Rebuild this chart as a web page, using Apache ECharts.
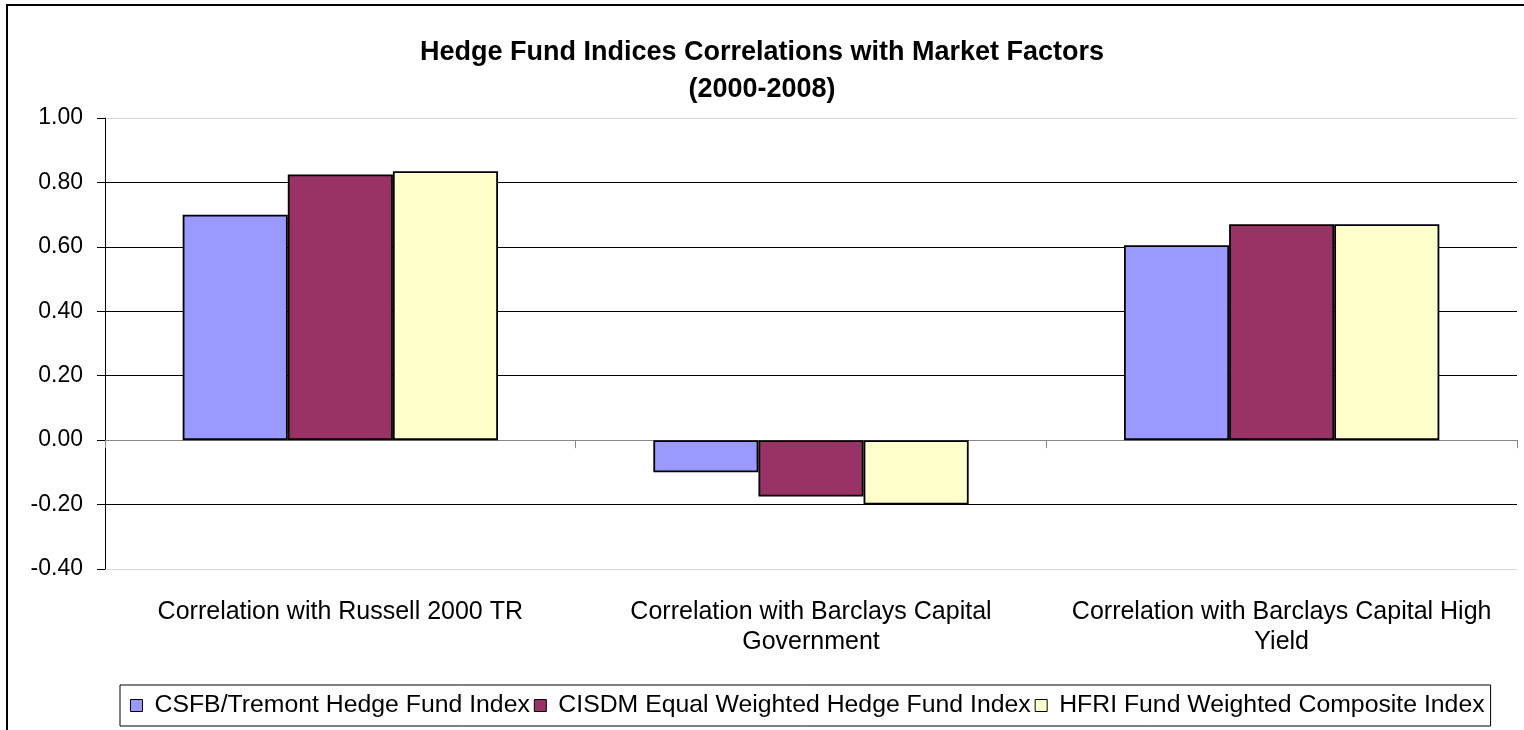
<!DOCTYPE html>
<html>
<head>
<meta charset="utf-8">
<script src="https://cdn.jsdelivr.net/npm/echarts@6/dist/echarts.min.js"></script>
<style>
  html, body { margin: 0; padding: 0; background: #fff; }
  #main { width: 1524px; height: 730px; }
</style>
</head>
<body>
<div id="main"></div>
<script>
// data
var categories = [
  'Correlation with Russell 2000 TR',
  'Correlation with Barclays Capital\nGovernment',
  'Correlation with Barclays Capital High\nYield'
];
var csfbValues = [0.70, -0.10, 0.605];
var cisdmValues = [0.825, -0.175, 0.67];
var hfriValues = [0.835, -0.20, 0.67];
var seriesNames = [
  'CSFB/Tremont Hedge Fund Index',
  'CISDM Equal Weighted Hedge Fund Index',
  'HFRI Fund Weighted Composite Index'
];
var seriesColors = ['#9999FF', '#993366', '#FFFFCC'];

var font = '"Liberation Sans", Arial, sans-serif';

function bar(name, data, color){
  return {
    name: name, type: 'bar', data: data,
    barGap: '0%', barCategoryGap: '33%',
    itemStyle: { color: color, borderColor: '#000', borderWidth: 1.8 }
  };
}

var chart = echarts.init(document.getElementById('main'), null, {renderer: 'canvas'});
chart.setOption({
  animation: false,
  backgroundColor: '#fff',
  textStyle: { fontFamily: font },
  title: {
    text: 'Hedge Fund Indices Correlations with Market Factors\n(2000-2008)',
    left: 'center', top: 29,
    textStyle: { fontFamily: font, fontSize: 27, fontWeight: 'bold', color: '#000', lineHeight: 37 }
  },
  graphic: [{
    type: 'rect', shape: { x: 7, y: 5, width: 1600, height: 800 },
    style: { fill: 'none', stroke: '#000', lineWidth: 2 }, silent: true
  }],
  legend: {
    data: seriesNames,
    bottom: 4, left: 120,
    itemWidth: 12, itemHeight: 12, itemGap: 4,
    padding: [8, 6, 8, 10],
    borderColor: '#000', borderWidth: 1,
    icon: 'rect',
    itemStyle: { borderColor: '#000', borderWidth: 1 },
    textStyle: { fontFamily: font, fontSize: 24.8, color: '#000', padding: [0, 0, 0, 7] }
  },
  grid: { left: 105, right: 7, top: 118, bottom: 161, containLabel: false },
  xAxis: [{
    type: 'category', data: categories,
    axisLine: { onZero: true, lineStyle: { color: '#888', width: 1 } },
    axisTick: { show: true, length: 8, lineStyle: { color: '#888' } },
    axisLabel: { show: false },
    splitLine: { show: false }
  }, {
    type: 'category', data: categories, position: 'bottom',
    axisLine: { show: false }, axisTick: { show: false },
    axisLabel: { interval: 0, hideOverlap: false, fontFamily: font, fontSize: 25, color: '#000', lineHeight: 30, margin: 28 }
  }],
  yAxis: {
    type: 'value', min: -0.4, max: 1.0, interval: 0.2,
    axisLine: { show: true, lineStyle: { color: '#000' } },
    axisTick: { show: true, length: 8, lineStyle: { color: '#000' } },
    axisLabel: {
      fontFamily: font, fontSize: 23, color: '#000', margin: 22,
      formatter: function(v){ return v.toFixed(2); }
    },
    splitLine: {
      show: true,
      lineStyle: { color: ['#d9d9d9', '#000', '#888', '#000', '#000', '#000', '#000', '#d9d9d9'], width: 1 }
    }
  },
  series: [
    bar(seriesNames[0], csfbValues, seriesColors[0]),
    bar(seriesNames[1], cisdmValues, seriesColors[1]),
    bar(seriesNames[2], hfriValues, seriesColors[2])
  ]
});
</script>
</body>
</html>
